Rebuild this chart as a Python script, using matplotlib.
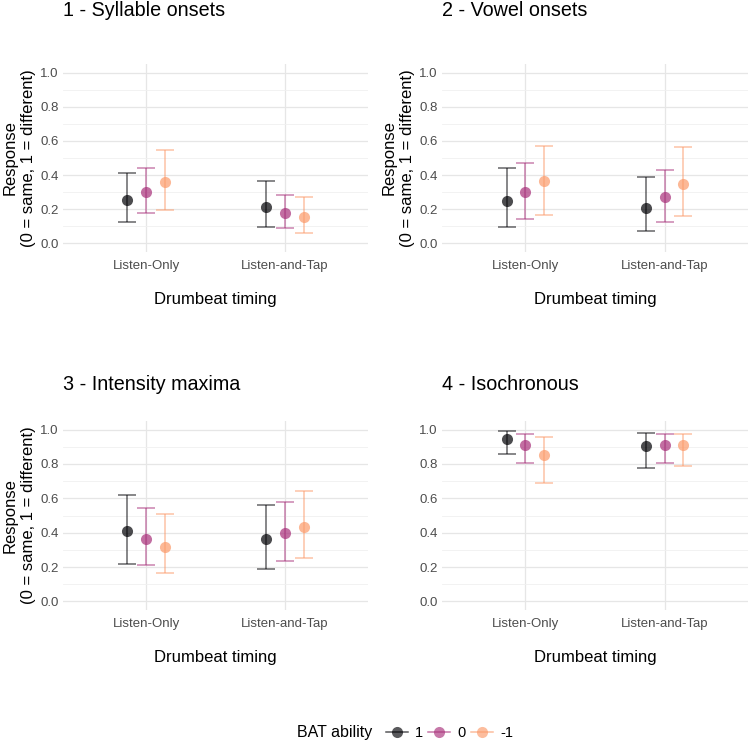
import matplotlib.pyplot as plt
from matplotlib.lines import Line2D
import numpy as np

plt.rcParams['font.family'] = ['Liberation Sans', 'DejaVu Sans']

panels = ["1 - Syllable onsets", "2 - Vowel onsets", "3 - Intensity maxima", "4 - Isochronous"]
timing = ["Listen-Only", "Listen-and-Tap"]
ability = ["1", "0", "-1"]

# estimates [panel][ability][timing]
est = [
    [[0.257, 0.211], [0.302, 0.177], [0.361, 0.152]],
    [[0.250, 0.209], [0.302, 0.269], [0.365, 0.347]],
    [[0.412, 0.362], [0.362, 0.397], [0.319, 0.435]],
    [[0.946, 0.907], [0.913, 0.911], [0.851, 0.909]],
]
lower = [
    [[0.123, 0.094], [0.179, 0.088], [0.197, 0.060]],
    [[0.097, 0.070], [0.144, 0.125], [0.168, 0.158]],
    [[0.219, 0.190], [0.209, 0.236], [0.164, 0.255]],
    [[0.859, 0.778], [0.807, 0.807], [0.687, 0.787]],
]
upper = [
    [[0.415, 0.366], [0.442, 0.281], [0.546, 0.273]],
    [[0.442, 0.386], [0.472, 0.431], [0.573, 0.567]],
    [[0.619, 0.559], [0.545, 0.577], [0.507, 0.644]],
    [[0.990, 0.979], [0.975, 0.975], [0.957, 0.975]],
]

colors = ["#000004", "#A8307A", "#FB9A6A"]
dodge = [-0.135, 0.0, 0.135]

W, H = 750, 743
fig = plt.figure(figsize=(7.5, 7.43), dpi=100)

# pixel boxes: left, top, right, bottom
boxes = [(63, 64, 368, 252), (442, 64, 748, 252), (63, 421, 368, 610), (442, 421, 748, 610)]
title_y = [16, 16, 390, 390]

for p in range(4):
    l, t, r, b = boxes[p]
    ax = fig.add_axes([l / W, 1 - b / H, (r - l) / W, (b - t) / H])
    for s in ax.spines.values():
        s.set_visible(False)
    ax.set_xlim(0.4, 2.6)
    ax.set_ylim(-0.05, 1.05)
    ax.set_yticks(np.arange(0, 1.01, 0.2))
    ax.set_yticks(np.arange(0.1, 1.0, 0.2), minor=True)
    ax.set_yticklabels(["0.0", "0.2", "0.4", "0.6", "0.8", "1.0"])
    ax.set_xticks([1, 2])
    ax.set_xticklabels(timing)
    ax.grid(True, which="major", color="#e6e6e6", lw=0.9)
    ax.grid(True, which="minor", axis="y", color="#f0f0f0", lw=0.6)
    ax.tick_params(which="both", length=0, labelsize=9.5, labelcolor="#4d4d4d", pad=3)
    ax.tick_params(axis="x", pad=6)
    ax.set_axisbelow(True)
    for a in range(3):
        x = np.array([1, 2]) + dodge[a]
        y = np.array(est[p][a])
        yerr = [y - np.array(lower[p][a]), np.array(upper[p][a]) - y]
        ax.errorbar(x, y, yerr=yerr, fmt="none", ecolor=colors[a], alpha=0.6,
                    elinewidth=1.1, capsize=6.5, capthick=1.1)
        ax.plot(x, y, "o", color=colors[a], alpha=0.7, markersize=8, mec="none")
    ax.set_xlabel("Drumbeat timing", fontsize=12, labelpad=14)
    if p != 3:
        ax.set_ylabel("Response\n(0 = same, 1 = different)", fontsize=12, labelpad=3,
                      linespacing=1.3)
    fig.text(l / W, 1 - title_y[p] / H, panels[p], fontsize=14.2, va="baseline", ha="left")

handles = [Line2D([0], [0], color=c, marker="o", markersize=8, lw=1.1, alpha=0.65, mec="none")
           for c in colors]
fig.text(297 / W, 1 - 733 / H, "BAT ability", fontsize=11.5, va="center", ha="left")
fig.legend(handles, ability, loc="center left", bbox_to_anchor=(386 / W, 1 - 733 / H),
           ncol=3, frameon=False, fontsize=10.5, handlelength=1.5, handletextpad=0.5,
           columnspacing=0.35, borderaxespad=0, borderpad=0)

fig.savefig("out.png", dpi=100)
